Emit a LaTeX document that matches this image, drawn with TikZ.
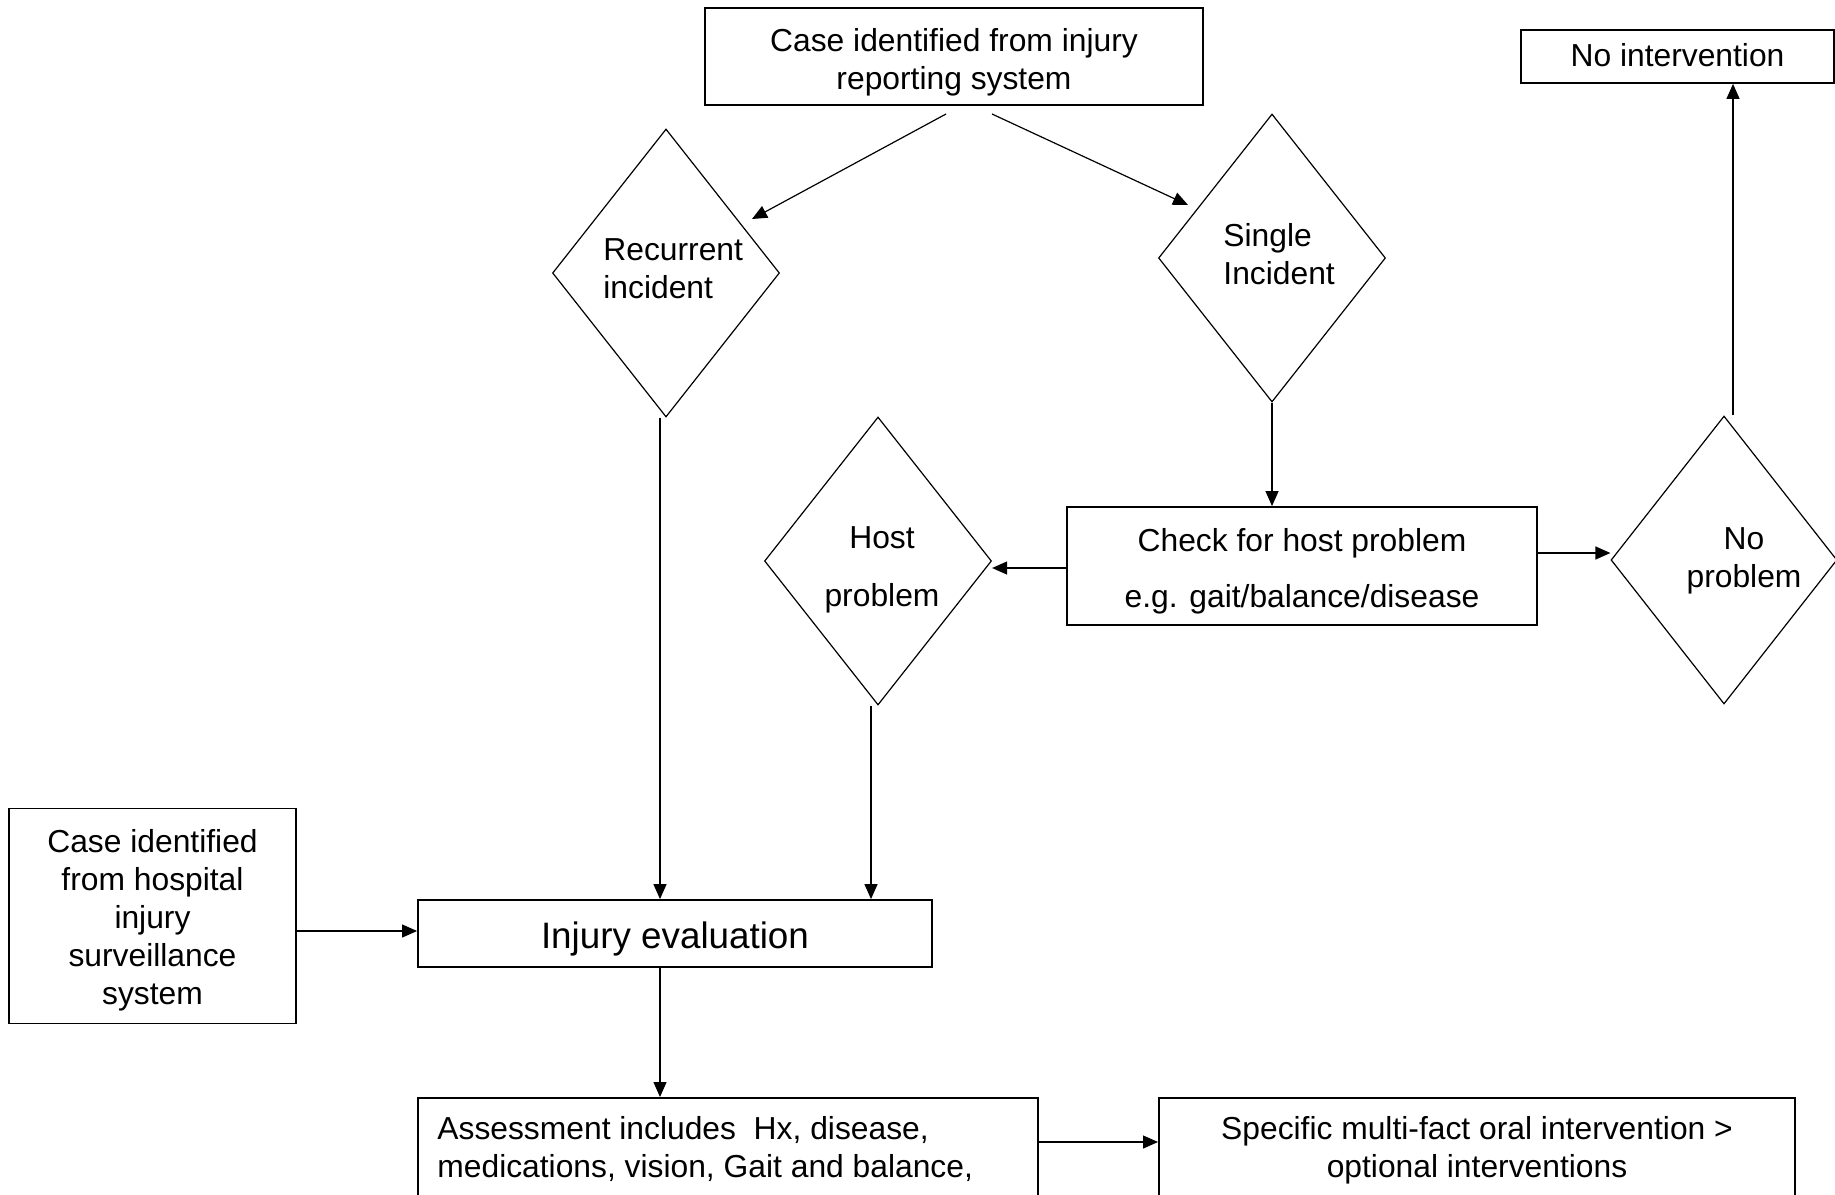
\documentclass[tikz,border=0pt]{standalone}
\usepackage{fontspec}
\setmainfont{Liberation Sans}
\usetikzlibrary{arrows.meta,shapes.geometric,calc}
\begin{document}
\begin{tikzpicture}[x=0.5pt,y=-0.5pt,
  box/.style={draw, line width=0.9pt, rectangle, inner sep=0pt},
  dia/.style={draw, line width=0.6pt, diamond, inner sep=0pt,
    minimum width=113.5pt, minimum height=144pt},
  lbl/.style={inner sep=0pt, align=center, font=\fontsize{15.9}{19}\selectfont},
  arr/.style={line width=0.6pt, -{Triangle[length=7.5pt,width=6.5pt]}}]
\clip (0,0) rectangle (1835,1194);
\useasboundingbox (0,0) rectangle (1835,1194);

% boxes
\node[box, minimum width=249pt, minimum height=48.5pt] (top) at (954,56.5) {};
\node[box, minimum width=156.5pt, minimum height=26.5pt] (noint) at (1677.5,56.5) {};
\node[box, minimum width=235pt, minimum height=59pt] (check) at (1302,566) {};
\node[box, minimum width=143.5pt, minimum height=107.5pt] (hosp) at (152.5,916) {};
\node[box, minimum width=257pt, minimum height=33.5pt] (inj) at (675,933.5) {};
\node[box, anchor=north west, minimum width=310pt, minimum height=80pt] (assess) at (417,1097) {};
\node[box, anchor=north west, minimum width=318pt, minimum height=80pt] (spec) at (1158,1097) {};

% decisions
\node[dia] (rec) at (666,273) {};
\node[dia] (single) at (1272,258) {};
\node[dia] (host) at (878,561) {};
\node[dia, minimum width=113pt] (noprob) at (1724,560) {};

% texts
\node[lbl] (topT) at ($(top)+(0,6)$) {Case identified from injury\\reporting system};
\node[lbl] (nointT) at ($(noint)+(0,-1)$) {No intervention};
\node[lbl, font=\fontsize{15.9}{28}\selectfont] (checkT) at ($(check)+(0,5)$)
  {Check for host problem\\e.g. gait/balance/disease};
\node[lbl] (hospT) at ($(hosp)+(0,4)$)
  {Case identified\\from hospital\\injury\\surveillance\\system};
\node[lbl, font=\fontsize{18.4}{22}\selectfont] (injT) at ($(inj)+(0,5)$) {Injury evaluation};
\node[lbl, anchor=west, align=left] (recT) at (603,269) {Recurrent\\incident};
\node[lbl, anchor=west, align=left] (singleT) at (1223,254.5) {Single\\Incident};
\node[lbl, font=\fontsize{15.9}{29}\selectfont] (hostT) at (882,570) {Host\\problem};
\node[lbl] (noprobT) at (1744,560.5) {No\\problem};
\node[lbl, anchor=west, align=left] (assessT) at (437,1149)
  {Assessment includes~ Hx, disease,\\medications, vision, Gait and balance,};
\node[lbl] (specT) at (1477,1150)
  {Specific multi-fact oral intervention >\\optional interventions};

% connector end points
\coordinate (ta) at (946,114);
\coordinate (ra) at (752,219);
\coordinate (tb) at (992,114);
\coordinate (sb) at (1188,205);
\coordinate (colA) at (660,0);
\coordinate (colB) at (871,0);
\coordinate (colC) at (1733,0);

% connectors
\draw[arr] (ta) -- (ra);
\draw[arr] (tb) -- (sb);
\draw[arr] (single.south) -- (single.south |- check.north);
\draw[arr] (rec.south -| colA) -- (inj.north -| colA);
\draw[arr] (host.south -| colB) -- (inj.north -| colB);
\draw[arr] (check.west |- 0,568) -- (host.east |- 0,568);
\draw[arr] (check.east |- 0,553) -- (noprob.west |- 0,553);
\draw[arr] (noprob.north -| colC) -- (noint.south -| colC);
\draw[arr] (hosp.east |- 0,931) -- (inj.west |- 0,931);
\draw[arr] (inj.south -| colA) -- (assess.north -| colA);
\draw[arr] (assess.east |- 0,1142) -- (spec.west |- 0,1142);
\end{tikzpicture}
\end{document}
